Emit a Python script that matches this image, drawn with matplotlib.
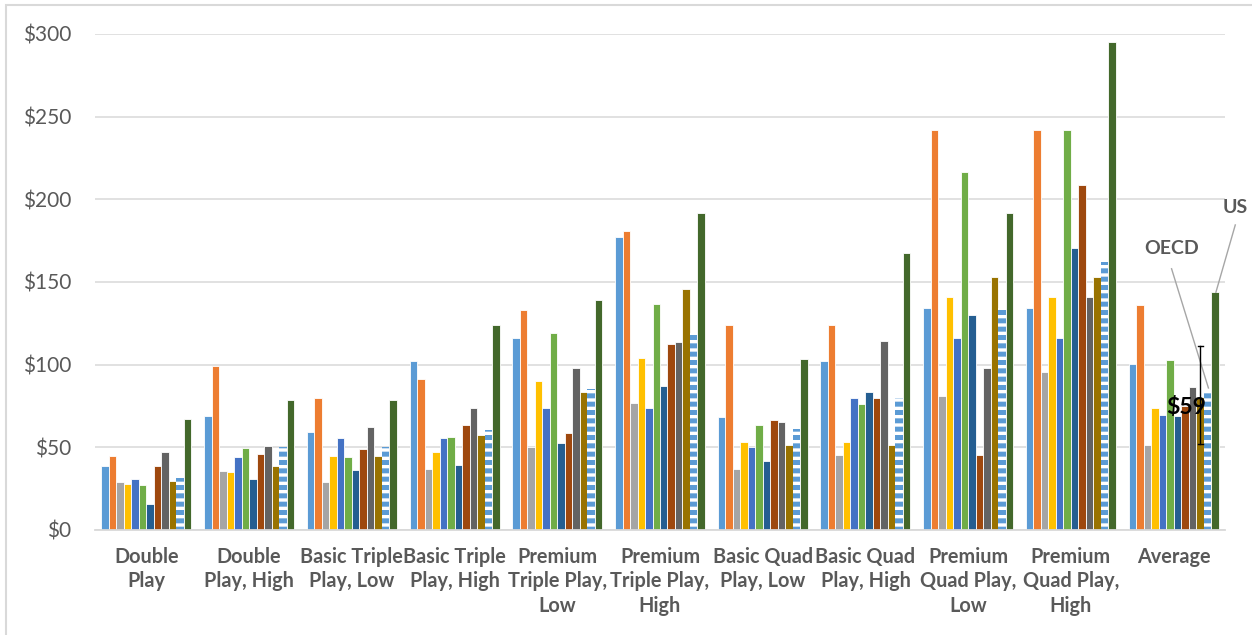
import numpy as np
import matplotlib
matplotlib.use("Agg")
import matplotlib.pyplot as plt
from matplotlib.patches import Rectangle

plt.rcParams['font.family'] = ['Lato', 'DejaVu Sans']
plt.rcParams['hatch.linewidth'] = 3.6

categories = ["Double\nPlay", "Double\nPlay, High", "Basic Triple\nPlay, Low",
              "Basic Triple\nPlay, High", "Premium\nTriple Play,\nLow",
              "Premium\nTriple Play,\nHigh", "Basic Quad\nPlay, Low",
              "Basic Quad\nPlay, High", "Premium\nQuad Play,\nLow",
              "Premium\nQuad Play,\nHigh", "Average"]

# monthly price per bundle, one list per country (last two: OECD and US)
c01 = [39, 69, 59, 102, 116, 177.5, 68.5, 102, 134, 134, 100.4]
c02 = [45, 99, 79.7, 91.5, 133, 181, 124, 124, 242, 242, 136]
c03 = [29, 35.5, 29, 37, 50, 77, 37, 45.4, 81.3, 95.6, 51.6]
c04 = [28, 35.3, 45, 47, 90, 104, 53, 53, 141, 141, 73.8]
c05 = [31, 44, 55.5, 55.5, 73.6, 73.6, 50.2, 80, 116, 116, 69.6]
c06 = [27.4, 49.8, 44, 56, 119, 136.5, 63.3, 76.4, 216.4, 242, 103]
c07 = [15.7, 30.7, 36.3, 39.5, 52.4, 87, 41.5, 83.5, 130, 170.4, 69]
c08 = [39, 45.8, 49, 63.3, 58.7, 112.7, 66.5, 80, 45.2, 208.7, 75]
c09 = [47, 50.8, 62, 73.8, 98, 113.5, 65.3, 114.3, 98.2, 141, 86.3]
c10 = [29.4, 39, 44.6, 57.5, 83.3, 146, 51.2, 51.2, 152.9, 152.9, 80.6]
oecd = [31.5, 50, 50.4, 60.5, 85, 119, 61, 80, 134, 162.3, 84.9]
us = [67, 78.6, 78.6, 124, 139, 192, 103.5, 167.4, 192, 295, 143.8]

countries = [c01, c02, c03, c04, c05, c06, c07, c08, c09, c10]
colors = ["#5B9BD5", "#ED7D31", "#A5A5A5", "#FFC000", "#4472C4",
          "#70AD47", "#255E91", "#9E480E", "#636363", "#997300"]
oecd_color = "#5B9BD5"
us_color = "#43682B"

gap_low, gap_high = 52, 111   # bracket between the average OECD and US prices
gap_label = "$59"

grey = "#595959"
fig = plt.figure(figsize=(12.52, 6.35), dpi=100)
ax = fig.add_axes([95 / 1252, 105 / 635, 1130 / 1252, 496 / 635])

x = np.arange(len(categories))
n = len(countries) + 2
w = 0.876 / n
off = lambda i: (i - (n - 1) / 2) * w

for i, (vals, col) in enumerate(zip(countries, colors)):
    ax.bar(x + off(i), vals, w, color=col, edgecolor="white", linewidth=0.6, zorder=2)
ax.bar(x + off(n - 2), oecd, w, facecolor="white", edgecolor=oecd_color,
       linewidth=0, hatch="--", zorder=2)
ax.bar(x + off(n - 1), us, w, color=us_color, edgecolor="white", linewidth=0.6, zorder=2)

ax.set_xlim(-0.5, len(categories) - 0.5)
ax.set_ylim(0, 300)
ax.set_yticks(np.arange(0, 301, 50))
ax.set_yticklabels(["$%d" % v for v in range(0, 301, 50)])
ax.set_xticks(x)
ax.set_xticklabels(categories, fontweight="bold", linespacing=1.3)
ax.tick_params(axis="y", length=0, pad=17, labelsize=15, labelcolor=grey)
ax.tick_params(axis="x", length=0, pad=12, labelsize=14.3, labelcolor=grey)
ax.grid(axis="y", color="#D9D9D9", linewidth=1.1)
ax.set_axisbelow(True)
for s in ["left", "right", "top"]:
    ax.spines[s].set_visible(False)
ax.spines["bottom"].set_color("#D9D9D9")
ax.spines["bottom"].set_linewidth(1.3)

# callouts on the average group
avg = len(categories) - 1
oecd_x = avg + off(n - 2)
us_x = avg + off(n - 1)
ax.plot([avg - 0.02, oecd_x + 0.01], [158, oecd[avg] + 1], color="#A6A6A6", lw=1, zorder=3)
ax.text(avg - 0.02, 170, "OECD", ha="center", va="center", fontsize=14,
        fontweight="bold", color=grey)
ax.plot([avg + 0.6, us_x + 0.01], [184.5, us[avg]], color="#A6A6A6", lw=1,
        zorder=3, clip_on=False)
ax.text(avg + 0.6, 195, "US", ha="center", va="center", fontsize=14,
        fontweight="bold", color=grey, clip_on=False)

bx = avg + off(n - 3)
ax.plot([bx, bx], [gap_low, gap_high], color="black", lw=1, zorder=4)
for yy in (gap_low, gap_high):
    ax.plot([bx - 0.015, bx + 0.03], [yy, yy], color="black", lw=1, zorder=4)
ax.text(avg + 0.126, 74, gap_label, ha="center", va="center", fontsize=16.5,
        fontweight="bold", color="black", zorder=5)

# light chart-area frame
fig.patches.append(Rectangle((6 / 1252, -0.1), 1.2, 1.1 - 5 / 635, transform=fig.transFigure,
                             fill=False, edgecolor="#D9D9D9", linewidth=1.5))

fig.savefig("out.png", dpi=100)
